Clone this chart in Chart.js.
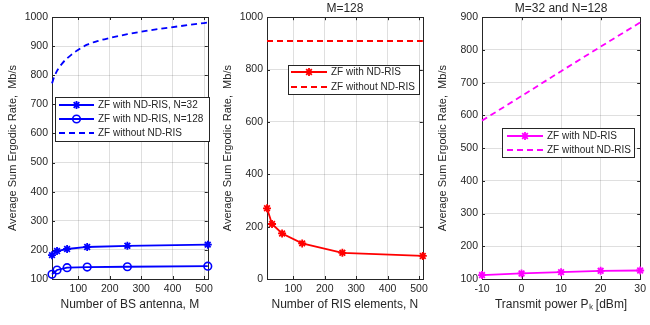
<!DOCTYPE html>
<html>
<head>
<meta charset="utf-8">
<script src="https://cdn.jsdelivr.net/npm/chart.js@4.4.0/dist/chart.umd.min.js"></script>
<style>
    body { margin: 0; background: #fff; }
    #wrap { position: relative; width: 650px; height: 325px; overflow: hidden; }
    canvas { position: absolute; top: 0; }
</style>
</head>
<body>
<div id="wrap">
    <canvas id="antennaChart" width="217" height="325" style="left:0px"></canvas>
    <canvas id="risChart" width="217" height="325" style="left:215px"></canvas>
    <canvas id="powerChart" width="220" height="325" style="left:430px"></canvas>
</div>
<script>
// Panel 1: rate vs number of BS antennas
const bsAntennas = [16, 32, 64, 128, 256, 512];
const rateRisN32 = [182, 196, 203, 210, 214, 218];
const rateRisN128 = [116, 131, 139, 141, 142, 144];
const bsAntennasFine = [16, 24, 32, 48, 64, 80, 96, 128, 160, 192, 256, 320, 384, 448, 512];
const rateNoRisM = [772, 797, 815, 840, 858, 872, 885, 905, 917, 926, 941, 953, 963, 972, 981];

// Panel 2: rate vs number of RIS elements (M=128)
const risElements = [16, 32, 64, 128, 256, 512];
const rateRisM128 = [270, 210, 174, 136, 100, 88];
const risElementsEnds = [16, 512];
const rateNoRisM128 = [909, 909];

// Panel 3: rate vs transmit power (M=32, N=128)
const powerDbm = [-10, 0, 10, 20, 30];
const ratePowerRis = [112, 117, 121, 125, 126];
const ratePowerNoRis = [584, 659, 735, 810, 884];

const antennaTicks = [100, 200, 300, 400, 500];
const yTitle = 'Average Sum Ergodic Rate,  Mb/s';

const FONT = 'Liberation Sans, Arial, Helvetica, sans-serif';
const INK = '#262626';
const GRID = 'rgba(38,38,38,0.15)';
const tickFont = { family: FONT, size: 10.5 };

// box around the axes with small inward ticks, like the original
const framePlugin = {
    id: 'frame',
    beforeDatasetsDraw(chart) {
        const { ctx, chartArea: a, scales } = chart;
        ctx.save();
        ctx.strokeStyle = INK;
        ctx.lineWidth = 1;
        ctx.beginPath();
        scales.x.ticks.forEach(t => {
            const px = Math.round(scales.x.getPixelForValue(t.value)) + 0.5;
            ctx.moveTo(px, a.bottom); ctx.lineTo(px, a.bottom - 3);
            ctx.moveTo(px, a.top); ctx.lineTo(px, a.top + 3);
        });
        scales.y.ticks.forEach(t => {
            const py = Math.round(scales.y.getPixelForValue(t.value)) + 0.5;
            ctx.moveTo(a.left, py); ctx.lineTo(a.left + 3, py);
            ctx.moveTo(a.right, py); ctx.lineTo(a.right - 3, py);
        });
        ctx.stroke();
        ctx.strokeRect(Math.round(a.left) + 0.5, Math.round(a.top) + 0.5,
            Math.round(a.right - a.left), Math.round(a.bottom - a.top));
        ctx.restore();
    }
};

// legend box drawn inside the plot area
function boxLegend(box, rowYs, lineX) {
    return {
        id: 'boxLegend',
        afterDraw(chart) {
            const ctx = chart.ctx;
            ctx.save();
            ctx.fillStyle = '#fff';
            ctx.fillRect(box[0], box[1], box[2], box[3]);
            ctx.strokeStyle = INK;
            ctx.lineWidth = 1;
            ctx.setLineDash([]);
            ctx.strokeRect(box[0] + 0.5, box[1] + 0.5, box[2], box[3]);
            chart.data.datasets.forEach((ds, i) => {
                const y = rowYs[i];
                ctx.strokeStyle = ds.borderColor;
                ctx.lineWidth = ds.borderWidth;
                ctx.setLineDash(ds.borderDash || []);
                ctx.beginPath();
                ctx.moveTo(lineX[0], y);
                ctx.lineTo(lineX[1], y);
                ctx.stroke();
                ctx.setLineDash([]);
                if (ds.pointRadius > 0) {
                    ctx.fillStyle = ds.pointBackgroundColor;
                    ctx.lineWidth = ds.pointBorderWidth;
                    Chart.helpers.drawPoint(ctx, {
                        pointStyle: ds.pointStyle,
                        radius: ds.pointRadius,
                        borderWidth: ds.pointBorderWidth,
                        rotation: 0
                    }, (lineX[0] + lineX[1]) / 2, y);
                }
                ctx.fillStyle = INK;
                ctx.font = '10px ' + FONT;
                ctx.textBaseline = 'middle';
                ctx.fillText(ds.label, lineX[1] + 4, y + 0.5);
            });
            ctx.restore();
        }
    };
}

function makeOptions(xCfg, yCfg, xTitle, title) {
    return {
        responsive: false,
        animation: false,
        layout: { padding: { top: title ? 0 : 17, right: 0, bottom: 0, left: 0 } },
        datasets: { line: { clip: false } },
        plugins: {
            legend: { display: false },
            tooltip: { enabled: false },
            title: {
                display: !!title,
                text: title,
                color: INK,
                fullSize: false,
                font: { family: FONT, size: 12, weight: 'normal', lineHeight: 1.1 },
                padding: { top: 2, bottom: 2 }
            }
        },
        scales: {
            x: Object.assign({
                type: 'linear',
                grid: { color: GRID, drawTicks: false },
                border: { display: false },
                title: {
                    display: true, text: xTitle, color: INK,
                    font: { family: FONT, size: 12 },
                    padding: { top: 0, bottom: 13 }
                },
                afterFit(scale) { scale.height = 46; }
            }, xCfg),
            y: Object.assign({
                type: 'linear',
                grid: { color: GRID, drawTicks: false },
                border: { display: false },
                title: {
                    display: true, text: yTitle, color: INK,
                    font: { family: FONT, size: 11 },
                    padding: { top: 6, bottom: 0 }
                },
                afterFit(scale) { scale.width = 52; }
            }, yCfg)
        }
    };
}

function tickCfg(step) {
    const t = { color: INK, padding: 4, font: tickFont, maxRotation: 0, callback: v => String(v) };
    if (step) t.stepSize = step;
    return t;
}

function toPoints(xs, ys) {
    return xs.map((x, i) => ({ x: x, y: ys[i] }));
}

// Panel 1
const blue = '#0000ff';
new Chart(document.getElementById('antennaChart'), {
    type: 'line',
    data: {
        datasets: [{
            label: 'ZF with ND-RIS, N=32',
            data: toPoints(bsAntennas, rateRisN32),
            borderColor: blue, borderWidth: 1.8,
            pointStyle: 'star', pointRadius: 4, pointBorderWidth: 1.8,
            pointBackgroundColor: blue, pointBorderColor: blue
        }, {
            label: 'ZF with ND-RIS, N=128',
            data: toPoints(bsAntennas, rateRisN128),
            borderColor: blue, borderWidth: 1.8,
            pointStyle: 'circle', pointRadius: 3.8, pointBorderWidth: 1.6,
            pointBackgroundColor: 'rgba(0,0,0,0)', pointBorderColor: blue
        }, {
            label: 'ZF without ND-RIS',
            data: toPoints(bsAntennasFine, rateNoRisM),
            borderColor: blue, borderWidth: 1.8, borderDash: [6, 4],
            pointRadius: 0, cubicInterpolationMode: 'monotone'
        }]
    },
    options: makeOptions(
        { min: 16, max: 512, ticks: tickCfg(), afterBuildTicks(s) { s.ticks = antennaTicks.map(v => ({ value: v })); } },
        { min: 100, max: 1000, ticks: tickCfg(100) },
        'Number of BS antenna, M', ''
    ),
    plugins: [framePlugin, boxLegend([55, 97, 154, 44], [105, 119, 133], [59, 94])]
});

// Panel 2
const red = '#ff0000';
new Chart(document.getElementById('risChart'), {
    type: 'line',
    data: {
        datasets: [{
            label: 'ZF with ND-RIS',
            data: toPoints(risElements, rateRisM128),
            borderColor: red, borderWidth: 1.8,
            pointStyle: 'star', pointRadius: 4, pointBorderWidth: 1.8,
            pointBackgroundColor: red, pointBorderColor: red
        }, {
            label: 'ZF without ND-RIS',
            data: toPoints(risElementsEnds, rateNoRisM128),
            borderColor: red, borderWidth: 1.8, borderDash: [6, 4],
            pointRadius: 0
        }]
    },
    options: makeOptions(
        { min: 16, max: 512, ticks: tickCfg(), afterBuildTicks(s) { s.ticks = antennaTicks.map(v => ({ value: v })); } },
        { min: 0, max: 1000, ticks: tickCfg(200) },
        'Number of RIS elements, N', 'M=128'
    ),
    plugins: [framePlugin, boxLegend([73, 65, 131, 29], [72, 87], [76, 112])]
});

// Panel 3
const magenta = '#ff00ff';
new Chart(document.getElementById('powerChart'), {
    type: 'line',
    data: {
        datasets: [{
            label: 'ZF with ND-RIS',
            data: toPoints(powerDbm, ratePowerRis),
            borderColor: magenta, borderWidth: 1.8,
            pointStyle: 'star', pointRadius: 4, pointBorderWidth: 1.8,
            pointBackgroundColor: magenta, pointBorderColor: magenta
        }, {
            label: 'ZF without ND-RIS',
            data: toPoints(powerDbm, ratePowerNoRis),
            borderColor: magenta, borderWidth: 1.8, borderDash: [6, 4],
            pointRadius: 0
        }]
    },
    options: makeOptions(
        { min: -10, max: 30, ticks: tickCfg(10) },
        { min: 100, max: 900, ticks: tickCfg(100) },
        'Transmit power P\u2096 [dBm]', 'M=32 and N=128'
    ),
    plugins: [framePlugin, boxLegend([72, 128, 132, 29], [136, 150], [77, 113])]
});
</script>
</body>
</html>
